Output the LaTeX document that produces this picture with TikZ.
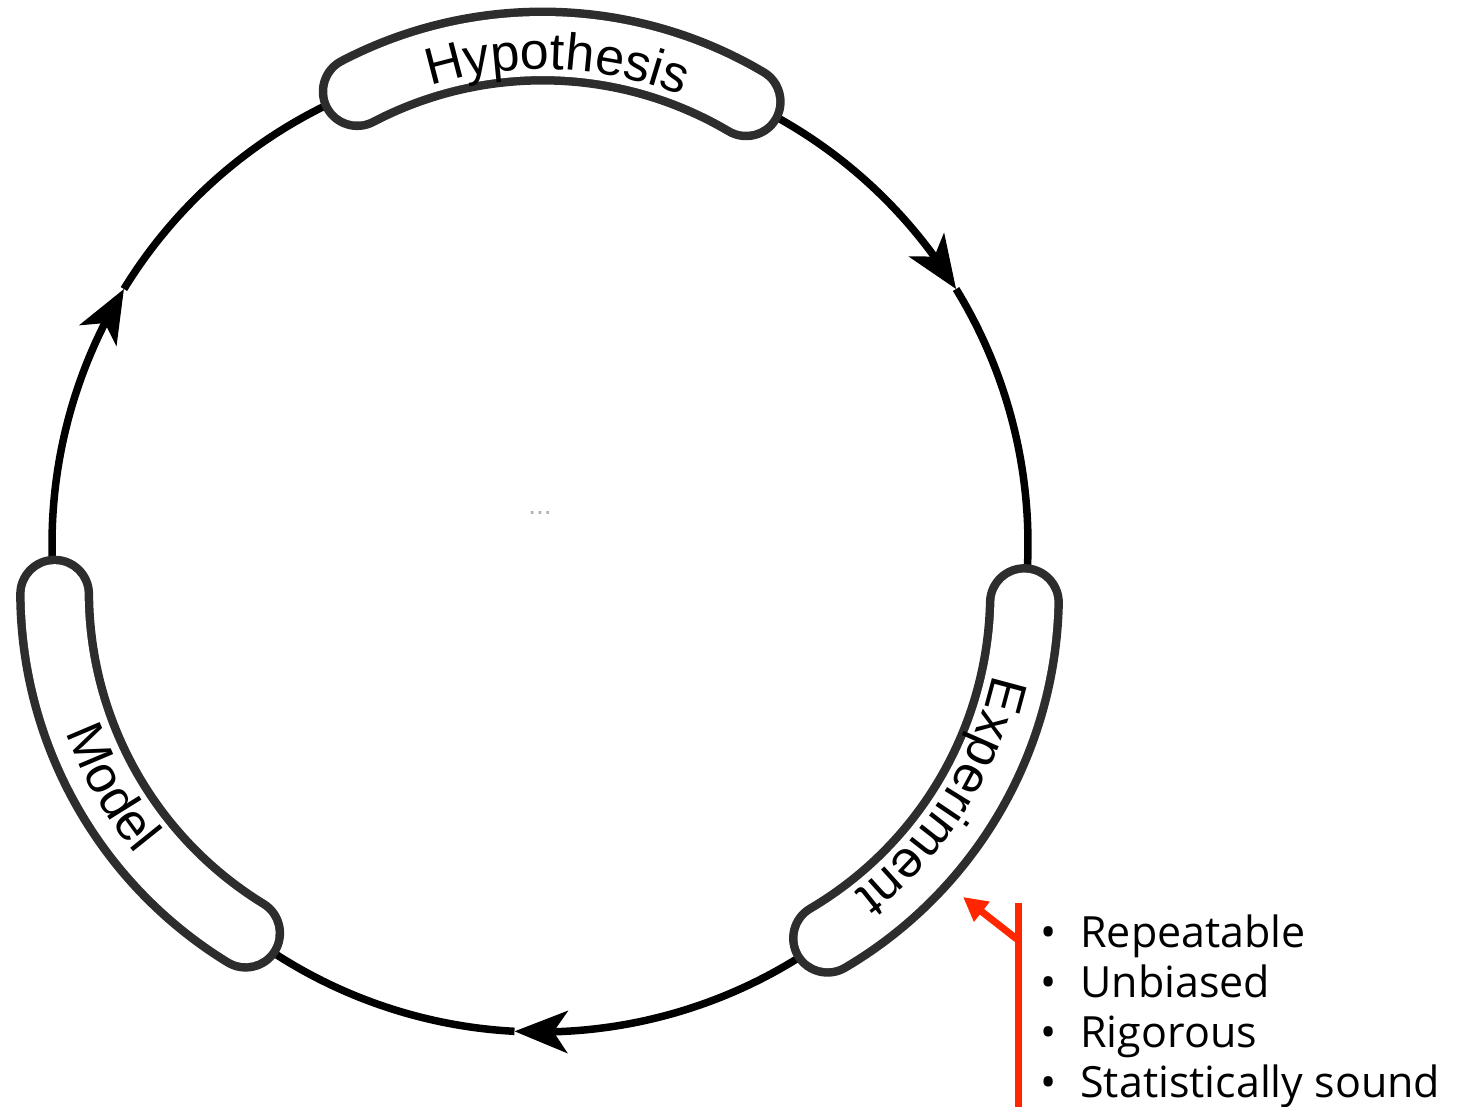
\documentclass[tikz,border=0pt]{standalone}
\usepackage{fontspec}
\usetikzlibrary{arrows.meta,bending,decorations.text}
\newfontfamily\bandfont{Liberation Sans}
\newfontfamily\notefont{Open Sans}
\definecolor{bandgray}{RGB}{45,45,45}
\definecolor{notered}{RGB}{255,38,0}

\begin{document}
\begin{tikzpicture}[x=1pt,y=1pt,
	cyc/.style={line width=7.5pt,black},
	cycarrow/.style={cyc,-{Stealth[length=53pt,width=42pt,inset=14pt]}},
	bandout/.style={line width=77pt,bandgray,line cap=round},
	bandin/.style={line width=60pt,white,line cap=round},
	bandtext/.style={decorate,decoration={text along path,text align=center,
		text={|\bandfont\fontsize{52}{60}\selectfont|#1}}},
	note/.style={line width=7pt,notered}]
	\useasboundingbox (0,0) rectangle (1468,1107);

	\begin{scope}[shift={(540,563)}]
		% band ends and arrow points on the loop
		\coordinate (hypW) at (112:488);
		\coordinate (hypE) at (65:488);
		\coordinate (expN) at (-6.9:488);
		\coordinate (expS) at (-53.9:488);
		\coordinate (modS) at (-127.1:488);
		\coordinate (modN) at (-174.1:488);
		\coordinate (arrR) at (31.5:488);
		\coordinate (arrB) at (-93:488);
		\coordinate (arrL) at (148.5:488);

		% the loop
		\draw[cycarrow] (hypE) arc[start angle=65,end angle=31.5,radius=488];
		\draw[cyc] (arrR) arc[start angle=31.5,end angle=-6.9,radius=488];
		\draw[cycarrow] (expS) arc[start angle=-53.9,end angle=-93,radius=488];
		\draw[cyc] (arrB) arc[start angle=-93,end angle=-127.1,radius=488];
		\draw[cycarrow] (modN) arc[start angle=-174.1,end angle=-211.5,radius=488];
		\draw[cyc] (arrL) arc[start angle=148.5,end angle=112,radius=488];

		% bands, a little more curved than the loop
		\foreach \p in {88.5,-30.4,209.4} {
			\begin{scope}[shift={(\p:98)}]
				\draw[bandout] (\p+29.1:400) arc[start angle=\p+29.1,end angle=\p-29.1,radius=400];
				\draw[bandin] (\p+29.1:400) arc[start angle=\p+29.1,end angle=\p-29.1,radius=400];
			\end{scope}
		}

		% labels
		\path[bandtext=Hypothesis,shift={(88.5:98)}]
			(116.9:377) arc[start angle=116.9,end angle=58.7,radius=377];
		\path[bandtext=Experiment,shift={(-30.4:98)}]
			(-3.3:377) arc[start angle=-3.3,end angle=-61.5,radius=377];
		\path[bandtext=Model,shift={(209.4:98)}]
			(180.6:413) arc[start angle=180.6,end angle=238.8,radius=413];
	\end{scope}

	\node[text=black!30,font=\bandfont\fontsize{28}{28}\selectfont] (dots) at (540,594) {...};

	% properties of a good experiment
	\node[anchor=base west,inner sep=0pt,font=\notefont\fontsize{43}{50}\selectfont] (props) at (1040,159)
		{\begin{tabular}[t]{@{}l@{\hspace{24pt}}l@{}}
			•&Repeatable\\
			•&Unbiased\\
			•&Rigorous\\
			•&Statistically sound
		\end{tabular}};
	\coordinate (noteTop) at (1018,204);
	\coordinate (noteBot) at (1018,0);
	\coordinate (noteJoin) at (1018,167);
	\coordinate (noteTip) at (963,210);
	\draw[note] (noteTop) -- (noteBot);
	\draw[note,-{Triangle[length=24pt,width=24pt]}] (noteJoin) -- (noteTip);
\end{tikzpicture}
\end{document}
